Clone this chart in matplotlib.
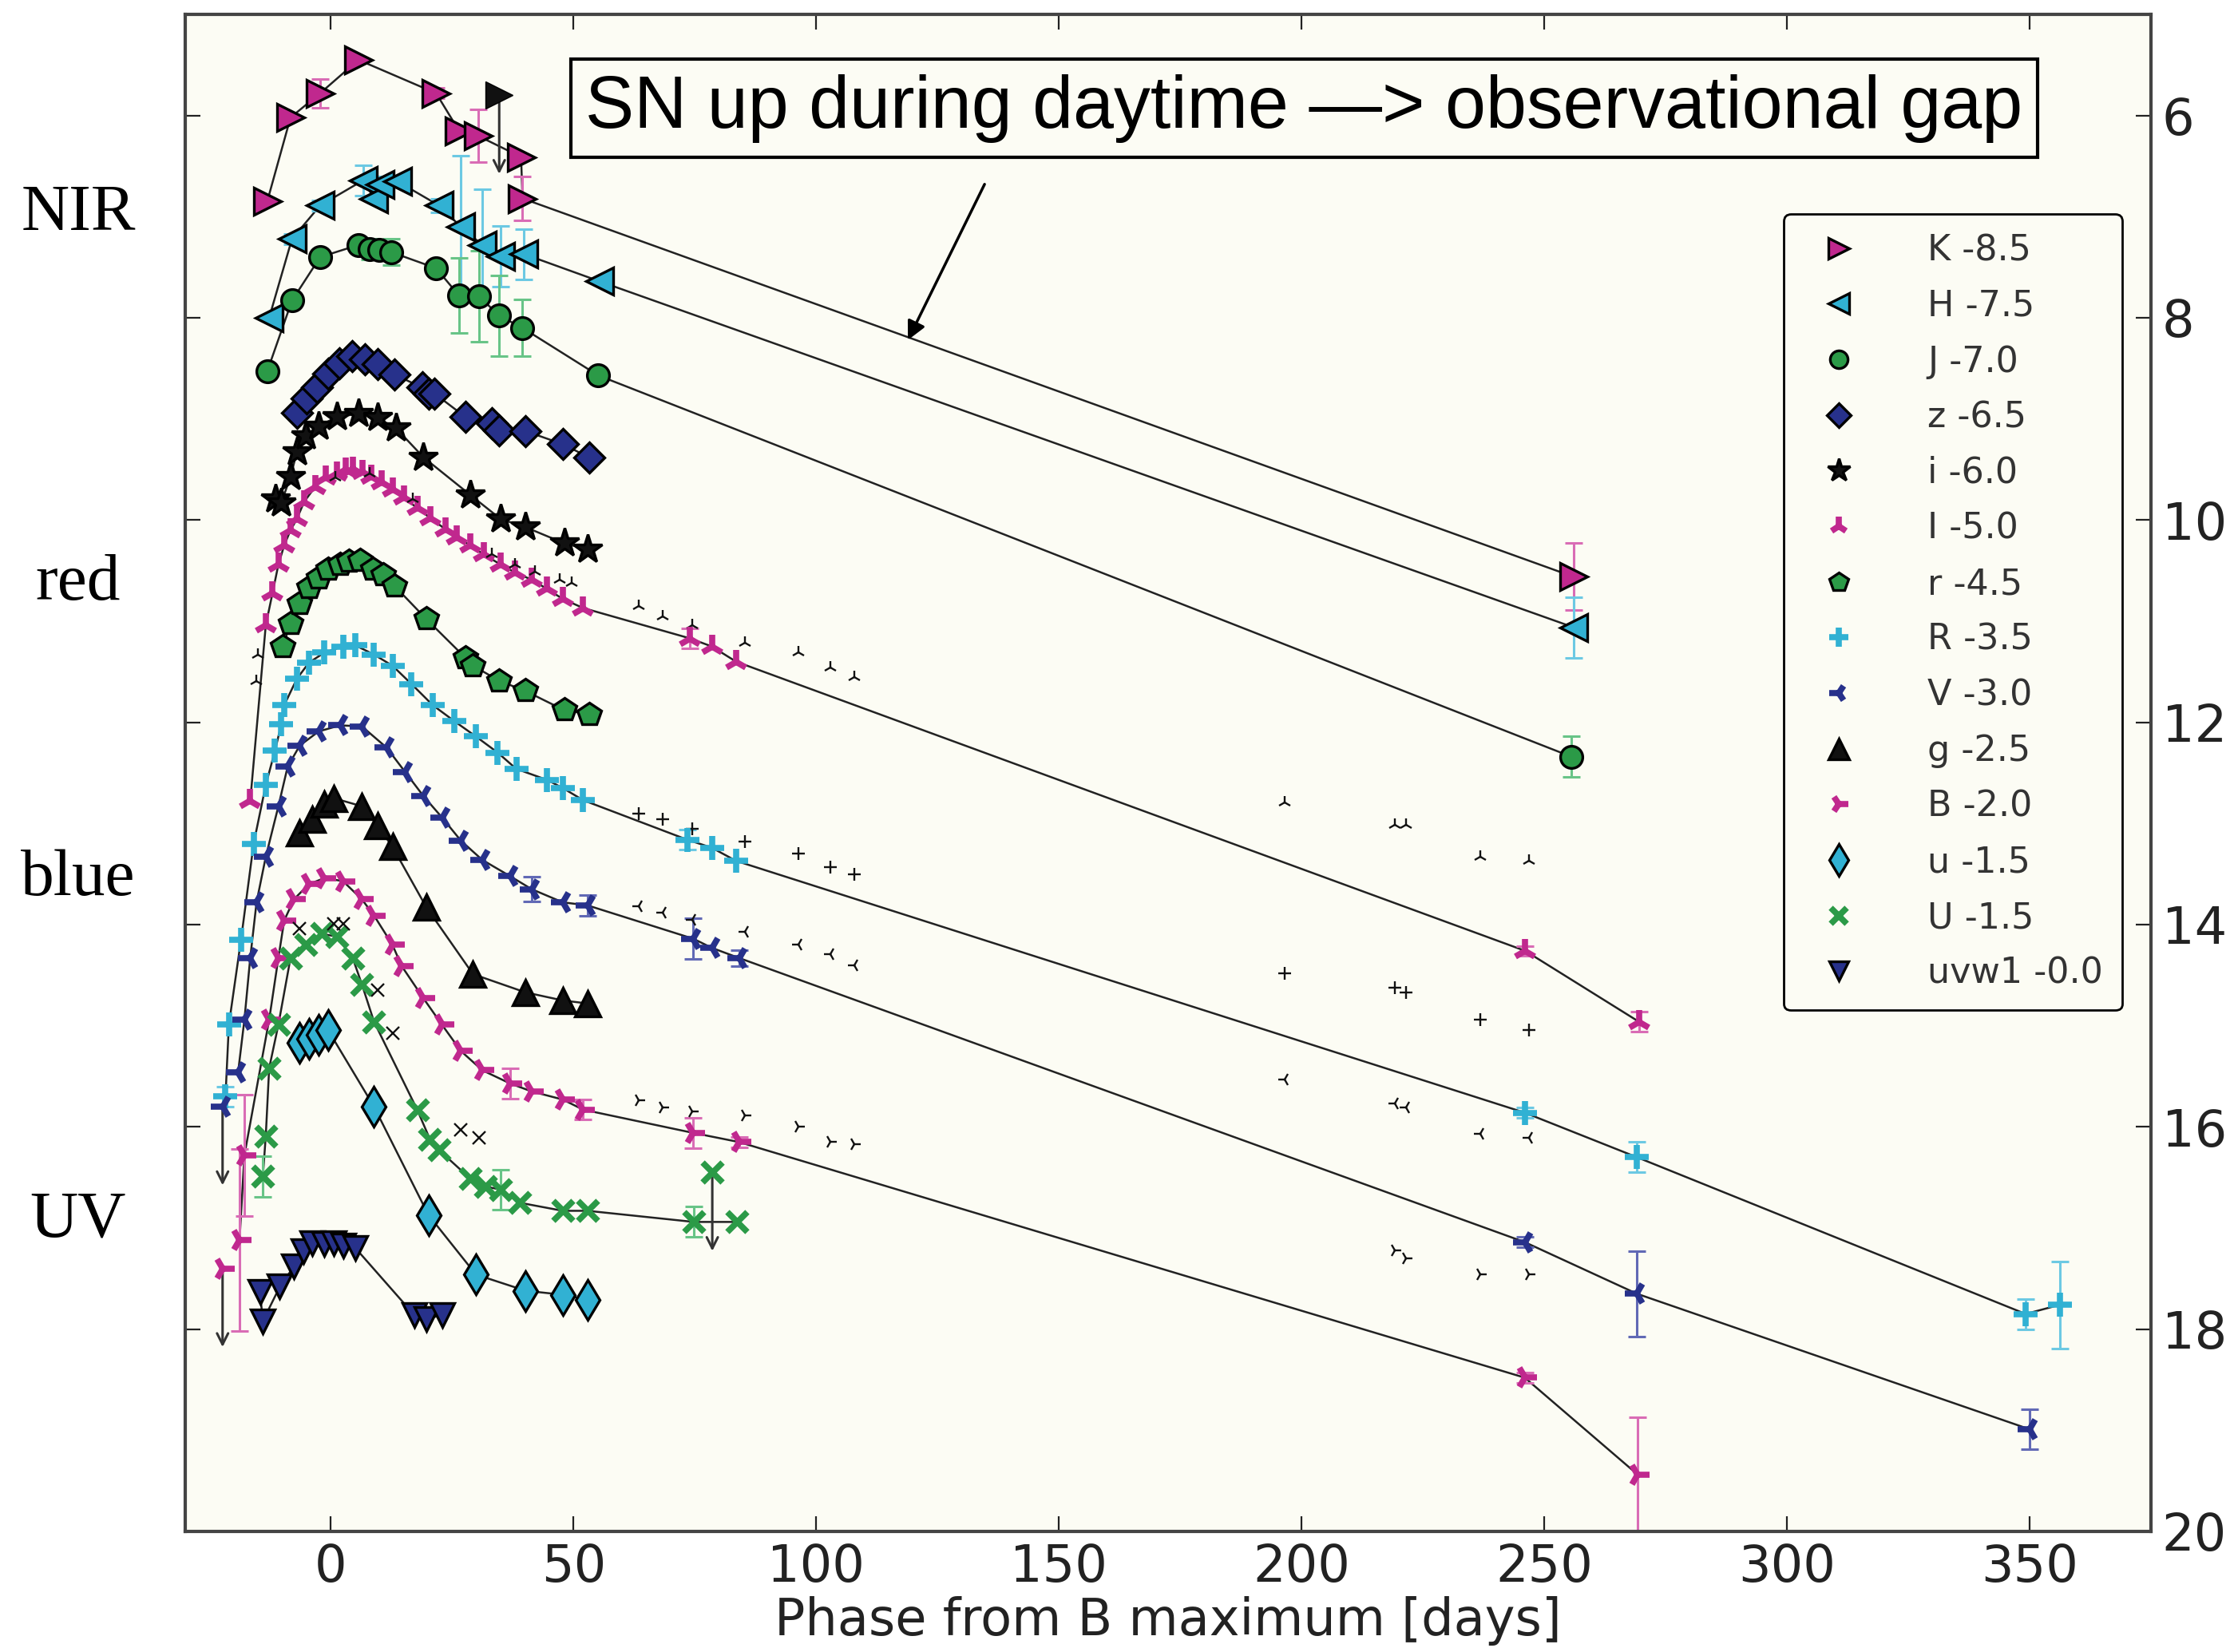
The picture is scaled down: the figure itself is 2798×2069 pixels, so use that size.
import numpy as np
import matplotlib
matplotlib.use('Agg')
import matplotlib.pyplot as plt

# ---- light curve data (phase [days], shifted magnitude, error) ----
K_day = [-13.1, -8.3, -2.2, 5.7, 21.7, 26.4, 30.3, 39.2, 39.5, 256.0]
K_mag = [6.85, 6.02, 5.78, 5.45, 5.78, 6.15, 6.20, 6.41, 6.82, 10.56]
K_err = [0, 0, 0.14, 0, 0.05, 0, 0.26, 0, 0.22, 0.33]

H_day = [-12.7, -8.0, -2.2, 6.7, 8.9, 10.2, 13.7, 22.3, 26.8, 31.2, 35.0, 39.8, 55.4, 256.0]
H_mag = [8.00, 7.22, 6.89, 6.64, 6.82, 6.68, 6.65, 6.89, 7.10, 7.28, 7.39, 7.37, 7.64, 11.06]
H_err = [0, 0.05, 0.05, 0.15, 0, 0.08, 0, 0.07, 0.7, 0.55, 0.3, 0.25, 0, 0.3]

J_day = [-13.1, -8.0, -2.2, 5.7, 8.0, 9.9, 12.4, 21.7, 26.4, 30.6, 34.7, 39.5, 55.1, 255.6]
J_mag = [8.53, 7.83, 7.40, 7.28, 7.32, 7.33, 7.35, 7.51, 7.78, 7.79, 7.98, 8.10, 8.57, 12.34]
J_err = [0, 0, 0, 0, 0.1, 0, 0.13, 0, 0.37, 0.45, 0.4, 0.28, 0, 0.2]

z_day = [-7.0, -5.0, -2.9, -0.6, 1.8, 4.4, 7.0, 9.7, 13.1, 18.8, 20.1, 21.4, 27.7, 33.1, 34.7, 40.1, 47.8, 53.2]
z_mag = [8.94, 8.80, 8.69, 8.55, 8.45, 8.38, 8.41, 8.46, 8.56, 8.69, 8.75, 8.75, 8.98, 9.04, 9.11, 9.12, 9.25, 9.38]

i_day = [-11.4, -10.2, -8.3, -7.0, -5.1, -2.5, 1.3, 5.7, 9.6, 13.4, 19.1, 28.7, 35.0, 40.1, 48.1, 52.9]
i_mag = [9.79, 9.83, 9.57, 9.33, 9.17, 9.07, 8.98, 8.95, 8.99, 9.09, 9.38, 9.75, 9.99, 10.07, 10.23, 10.29]

I_day = [-16.6, -13.4, -12.0, -10.8, -9.6, -8.3, -7.0, -5.5, -3.2, -1.0, 1.3, 3.0, 4.5, 6.5, 8.3,
         10.5, 12.7, 15.0, 17.8, 20.5, 23.6, 26.0, 28.7, 31.5, 35.0, 38.0, 41.4, 44.5, 47.8, 52.0,
         74.0, 78.5, 83.5, 246.1, 269.5]
I_mag = [12.78, 11.04, 10.72, 10.44, 10.25, 10.10, 9.99, 9.82, 9.67, 9.58, 9.54, 9.50, 9.49, 9.52, 9.57,
         9.63, 9.70, 9.78, 9.88, 9.98, 10.09, 10.17, 10.25, 10.34, 10.44, 10.52, 10.59, 10.68, 10.78, 10.87,
         11.17, 11.25, 11.40, 14.26, 14.96]
I_err = [0] * 30 + [0.1, 0, 0, 0.05, 0.1]

r_day = [-9.9, -8.3, -6.4, -4.5, -2.5, -0.6, 1.9, 3.8, 6.1, 8.6, 10.8, 13.1, 19.7, 27.7, 29.3,
         34.7, 40.1, 48.1, 53.2]
r_mag = [11.25, 11.02, 10.83, 10.67, 10.57, 10.49, 10.44, 10.41, 10.40, 10.49, 10.54, 10.65, 10.98, 11.36,
         11.44, 11.59, 11.69, 11.88, 11.92]

R_day = [-21.7, -21.0, -18.5, -15.9, -13.4, -11.5, -10.2, -9.6, -7.0, -4.5, -1.3, 2.5, 5.1, 8.9, 12.7,
         16.6, 21.0, 25.5, 29.9, 34.4, 38.2, 44.6, 47.8, 52.0, 73.4, 78.5, 83.5, 246.0, 269.1, 349.2, 356.2]
R_mag = [15.70, 14.99, 14.15, 13.20, 12.62, 12.28, 12.02, 11.83, 11.57, 11.41, 11.31, 11.25, 11.24, 11.33, 11.44,
         11.62, 11.83, 11.99, 12.14, 12.30, 12.46, 12.57, 12.65, 12.77, 13.16, 13.24, 13.37, 15.86, 16.30, 17.85, 17.76]
R_err = [0.1] + [0] * 23 + [0.1, 0, 0, 0.05, 0.15, 0.15, 0.43]

V_day = [-19.1, -17.8, -16.6, -15.3, -13.4, -10.8, -8.9, -6.4, -2.5, 1.9, 6.4, 11.5, 15.3, 19.1,
         22.9, 26.8, 31.2, 36.9, 41.4, 47.8, 52.9, 74.7, 78.5, 84.1, 246.0, 269.1, 350.0]
V_mag = [15.46, 14.94, 14.33, 13.78, 13.33, 12.83, 12.44, 12.23, 12.09, 12.03, 12.04, 12.25, 12.49, 12.73,
         12.94, 13.17, 13.36, 13.52, 13.65, 13.78, 13.81, 14.14, 14.23, 14.33, 17.14, 17.65, 18.99]
V_err = [0] * 18 + [0.12, 0, 0.1, 0.2, 0, 0.08, 0.05, 0.42, 0.2]

g_day = [-6.4, -3.8, -1.3, 0.6, 6.4, 9.6, 12.7, 19.7, 29.3, 40.1, 47.8, 52.9]
g_mag = [13.09, 12.96, 12.81, 12.75, 12.83, 13.02, 13.23, 13.83, 14.49, 14.67, 14.75, 14.78]

B_day = [-18.8, -17.8, -12.7, -10.8, -9.6, -7.6, -4.5, -1.3, 2.5, 6.4, 8.9, 12.7, 14.6, 19.1, 22.9,
         26.8, 31.2, 36.9, 41.4, 47.8, 52.0, 74.7, 84.1, 246.0, 269.3]
B_mag = [17.12, 16.28, 14.94, 14.33, 13.96, 13.75, 13.60, 13.54, 13.57, 13.75, 13.91, 14.20, 14.41, 14.73, 14.99,
         15.25, 15.44, 15.57, 15.65, 15.73, 15.83, 16.06, 16.15, 18.48, 19.44]
B_err = [0.9, 0.6] + [0] * 15 + [0.15, 0, 0, 0.1, 0.15, 0.05, 0.05, 0.57]

u_day = [-6.4, -4.5, -2.5, -0.6, 8.9, 20.1, 29.9, 40.1, 47.8, 52.9]
u_mag = [15.17, 15.13, 15.09, 15.04, 15.80, 16.87, 17.46, 17.62, 17.66, 17.71]

U_day = [-14.0, -13.4, -12.7, -10.8, -8.3, -5.1, -1.9, 1.3, 4.5, 6.4, 8.9, 17.8, 20.4, 22.3, 28.7,
         31.8, 35.0, 38.9, 47.8, 52.9, 74.8, 83.6]
U_mag = [16.49, 16.09, 15.42, 14.99, 14.33, 14.20, 14.09, 14.12, 14.33, 14.59, 14.96, 15.83, 16.12, 16.23, 16.51,
         16.59, 16.62, 16.75, 16.83, 16.83, 16.94, 16.94]
U_err = [0.2] + [0] * 15 + [0.2, 0, 0, 0, 0.15, 0]

uvw1_day = [-14.6, -14.0, -10.5, -7.6, -5.7, -3.8, -1.3, 0.6, 2.5, 5.1, 17.2, 19.7, 22.9]
uvw1_mag = [17.63, 17.92, 17.58, 17.38, 17.23, 17.15, 17.16, 17.15, 17.17, 17.20, 17.86, 17.90, 17.86]

# comparison light curves (small black symbols)
cmp_day = [63.4, 68.3, 74.4, 85.3, 96.4, 102.9, 107.9, 196.5, 219.3, 221.5, 236.9, 246.8]
cmp_I = [10.85, 10.95, 11.04, 11.21, 11.31, 11.46, 11.55, 12.79, 13.01, 13.01, 13.33, 13.37]
cmp_R = [12.90, 12.96, 13.05, 13.18, 13.30, 13.43, 13.50, 14.48, 14.62, 14.67, 14.94, 15.04]
cmp_V = [13.82, 13.88, 13.95, 14.07, 14.20, 14.29, 14.40, 15.53, 15.77, 15.81, 16.07, 16.11]
cmpB_day = [63.4, 68.3, 74.4, 85.3, 96.4, 102.9, 107.9, 219.3, 221.5, 236.9, 246.8]
cmp_B = [15.74, 15.81, 15.85, 15.89, 16.00, 16.15, 16.17, 17.22, 17.30, 17.46, 17.46]
cmpI_early_day = [-15.3, -15.0, 1.0, 8.0, 16.9, 33.1, 37.9, 42.0, 47.1, 49.7]
cmpI_early = [11.59, 11.33, 9.58, 9.54, 9.79, 10.34, 10.44, 10.51, 10.59, 10.62]
cmpU_day = [-6.4, 0.6, 2.5, 9.6, 12.7, 26.8, 30.6]
cmpU = [14.04, 13.99, 13.99, 14.65, 15.07, 16.03, 16.11]

# upper limits
lim_day = [34.7, 78.6, -22.3, -22.3]
lim_mag = [5.80, 16.45, 15.80, 17.40]
lim_band = ['K', 'U', 'V', 'B']

magenta = '#c0288e'
cyan = '#31b1d3'
green = '#2b9a47'
navy = '#27318b'
black = '#111111'
light = {magenta: '#d96cb5', cyan: '#6cc9e3', green: '#68c487', navy: '#6169b5', black: '#666666'}
bg = '#fcfcf4'

# label, days, mags, errs, marker, colour, size, filled
bands = [
    ('K -8.5', K_day, K_mag, K_err, '>', magenta, 24, True),
    ('H -7.5', H_day, H_mag, H_err, '<', cyan, 24, True),
    ('J -7.0', J_day, J_mag, J_err, 'o', green, 20, True),
    ('z -6.5', z_day, z_mag, None, 'D', navy, 19, True),
    ('i -6.0', i_day, i_mag, None, '*', black, 27, True),
    ('I -5.0', I_day, I_mag, I_err, '2', magenta, 21, False),
    ('r -4.5', r_day, r_mag, None, 'p', green, 22, True),
    ('R -3.5', R_day, R_mag, R_err, '+', cyan, 21, False),
    ('V -3.0', V_day, V_mag, V_err, '3', navy, 21, False),
    ('g -2.5', g_day, g_mag, None, '^', black, 23, True),
    ('B -2.0', B_day, B_mag, B_err, '4', magenta, 21, False),
    ('u -1.5', u_day, u_mag, None, 'd', cyan, 25, True),
    ('U -1.5', U_day, U_mag, U_err, 'x', green, 18, False),
    ('uvw1 -0.0', uvw1_day, uvw1_mag, None, 'v', navy, 21, True),
]

fig = plt.figure(figsize=(27.98, 20.69), dpi=100)
ax = fig.add_axes([0.0829, 0.073, 0.8799, 0.9183])
ax.set_facecolor(bg)

handles = []
for name, d, m, e, mk, col, ms, filled in bands:
    d = np.array(d)
    m = np.array(m)
    ax.plot(d, m, '-', color='#222222', lw=1.8, zorder=2)
    if e is not None:
        e = np.array(e)
        sel = e > 0
        ax.errorbar(d[sel], m[sel], yerr=e[sel], fmt='none', ecolor=light[col],
                    elinewidth=2.2, capsize=8, capthick=2.2, zorder=2.5)
    if filled:
        h, = ax.plot(d, m, ls='none', marker=mk, ms=ms, mfc=col, mec='black', mew=2.4,
                     zorder=3, label=name)
    else:
        h, = ax.plot(d, m, ls='none', marker=mk, ms=ms, color=col, mew=5.5,
                     zorder=3, label=name)
    handles.append(h)

# comparison symbols
ax.plot(cmp_day, cmp_I, ls='none', marker='2', ms=12, color=black, mew=1.7, zorder=2.6)
ax.plot(cmp_day, cmp_R, ls='none', marker='+', ms=12, color=black, mew=1.7, zorder=2.6)
ax.plot(cmp_day, cmp_V, ls='none', marker='3', ms=12, color=black, mew=1.7, zorder=2.6)
ax.plot(cmpB_day, cmp_B, ls='none', marker='4', ms=12, color=black, mew=1.7, zorder=2.6)
ax.plot(cmpI_early_day, cmpI_early, ls='none', marker='2', ms=12, color=black, mew=1.7, zorder=3.5)
ax.plot(cmpU_day, cmpU, ls='none', marker='x', ms=12, color=black, mew=1.7, zorder=3.5)

# upper limits with arrows
style = {b[0].split()[0]: b for b in bands}
for d, m, b in zip(lim_day, lim_mag, lim_band):
    ax.annotate('', xy=(d, m + 0.8), xytext=(d, m),
                arrowprops=dict(arrowstyle='->', color='#333333', lw=2.2, mutation_scale=25), zorder=2.4)
    mk, col, ms, filled = style[b][4], style[b][5], style[b][6], style[b][7]
    if b == 'K':
        ax.plot(d, m, ls='none', marker=mk, ms=ms, mfc=black, mec='black', zorder=3)
    elif filled:
        ax.plot(d, m, ls='none', marker=mk, ms=ms, mfc=col, mec='black', mew=2.4, zorder=3)
    else:
        ax.plot(d, m, ls='none', marker=mk, ms=ms, color=col, mew=5.5, zorder=3)

ax.set_xlim(-30, 375)
ax.set_ylim(20, 5)
ax.set_xticks(np.arange(0, 351, 50))
ax.set_yticks(np.arange(6, 21, 2))
ax.tick_params(direction='in', length=14, width=1.6, top=True, right=True, left=True,
               labelleft=False, labelright=True, labelsize=46, pad=10, colors='#222222')
for sp in ax.spines.values():
    sp.set_linewidth(3)
    sp.set_color('#444444')
ax.set_xlabel('Phase from B maximum [days]', fontsize=46, labelpad=4, color='#222222')

leg = ax.legend(handles=handles, loc='upper right', bbox_to_anchor=(0.9855, 0.8685),
                borderaxespad=0, fontsize=32, markerscale=0.8, numpoints=1, labelspacing=0.6,
                handlelength=2.0, handletextpad=1.5, borderpad=0.55,
                frameon=True, fancybox=True, framealpha=1)
leg.get_frame().set_edgecolor('black')
leg.get_frame().set_facecolor(bg)
leg.get_frame().set_linewidth(2)
for t in leg.get_texts():
    t.set_color('#333333')

# annotation
ax.text(200.5, 5.93, 'SN up during daytime \u2014> observational gap', fontsize=66,
        family='Liberation Sans', ha='center', va='center', zorder=5,
        bbox=dict(boxstyle='square,pad=0.2', fc=bg, ec='black', lw=3))
ax.annotate('', xy=(118.7, 8.24), xytext=(134.9, 6.66),
            arrowprops=dict(arrowstyle='-|>', color='black', lw=2.5, mutation_scale=35), zorder=5)

# band group labels
for lab, y in [('NIR', 0.8705), ('red', 0.6464), ('blue', 0.4679), ('UV', 0.2609)]:
    fig.text(0.035, y, lab, fontsize=60, family='Liberation Serif', ha='center', va='center')

fig.savefig('out.png', dpi=100)
